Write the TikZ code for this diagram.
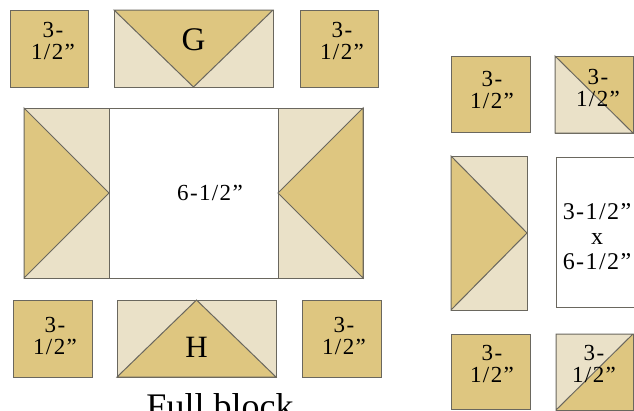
\documentclass[tikz,border=0pt]{standalone}
\usepackage{fontspec}
\setmainfont{Liberation Serif}
\newfontfamily\lblfont[LetterSpace=6]{Liberation Serif}
\usepackage{tikz}
\usetikzlibrary{positioning, calc}

\definecolor{goldfab}{HTML}{DEC680}
\definecolor{creamfab}{HTML}{EAE1C8}
\definecolor{seamgray}{HTML}{6A675E}

\tikzset{
  gold/.style={fill=goldfab},
  cream/.style={fill=creamfab},
  plain/.style={fill=white},
  seam/.style={draw=seamgray, line width=1pt},
  lbl/.style={font=\lblfont\fontsize{23}{22}\selectfont, align=center, inner sep=0pt},
  letter/.style={font=\fontsize{33}{33}\selectfont, inner sep=0pt}
}

\begin{document}
\begin{tikzpicture}[x=1pt,y=-1pt]
  \useasboundingbox (0,0) rectangle (634,410);
  \clip (0,0) rectangle (634,410);

  % Top row
  \draw[seam, gold] (10,10) rectangle (88,87);
  \draw[seam, cream] (114,10) rectangle (273,87);
  \draw[seam, gold] (114,10) -- (273,10) -- (193.5,87) -- cycle;
  \draw[seam, gold] (300,10) rectangle (378,87);
  \node[lbl] (sqa) at (53,41) {3-\\1/2”};
  \node[letter] (geeseG) at (193.5,40) {G};
  \node[lbl] (sqb) at (342,41) {3-\\1/2”};

  % Middle row
  \draw[seam, cream] (24,108) rectangle (109,278);
  \draw[seam, gold] (24,108) -- (109,193) -- (24,278) -- cycle;
  \draw[seam, plain] (109,108) rectangle (278,278);
  \draw[seam, cream] (278,108) rectangle (363,278);
  \draw[seam, gold] (363,108) -- (278,193) -- (363,278) -- cycle;
  \node[lbl] (centre) at (210,193) {6-1/2”};

  % Bottom row
  \draw[seam, gold] (13,300) rectangle (92,377);
  \draw[seam, cream] (117,300) rectangle (276,377);
  \draw[seam, gold] (117,377) -- (196.5,300) -- (276,377) -- cycle;
  \draw[seam, gold] (302,300) rectangle (381,377);
  \node[lbl] (sqc) at (55,336) {3-\\1/2”};
  \node[letter, font=\fontsize{31}{31}\selectfont] (geeseH) at (196.5,347) {H};
  \node[lbl] (sqd) at (344,336) {3-\\1/2”};
  \node[font=\fontsize{36}{36}\selectfont, inner sep=0pt, anchor=base] (caption) at (220,418) {Full block};

  % Quarter block
  \draw[seam, gold] (451,56) rectangle (530,132);
  \draw[seam, gold] (555,56) rectangle (633,133);
  \draw[seam, cream] (555,56) -- (633,133) -- (555,133) -- cycle;
  \node[lbl] (sqe) at (492,90) {3-\\1/2”};
  \node[lbl] (hsta) at (598,88) {3-\\1/2”};

  \draw[seam, cream] (451,156) rectangle (527,310);
  \draw[seam, gold] (451,156) -- (527,233) -- (451,310) -- cycle;
  \draw[seam, plain] (556,157) rectangle (645,307);
  \node[lbl, font=\lblfont\fontsize{24}{25}\selectfont] (strip) at (597,237) {3-1/2”\\x\\6-1/2”};

  \draw[seam, gold] (451,334) rectangle (530,409);
  \draw[seam, gold] (556,334) rectangle (633,410);
  \draw[seam, cream] (556,334) -- (633,334) -- (556,410) -- cycle;
  \node[lbl] (sqf) at (492,364) {3-\\1/2”};
  \node[lbl] (hstb) at (594,364) {3-\\1/2”};
\end{tikzpicture}
\end{document}
